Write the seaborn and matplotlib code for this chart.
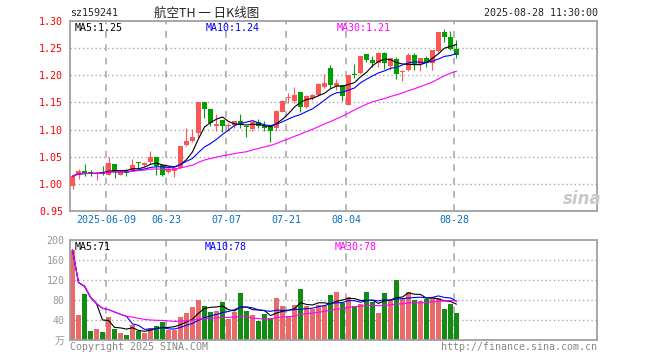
import numpy as np
import pandas as pd
import matplotlib
matplotlib.use("Agg")
import matplotlib.pyplot as plt
import seaborn as sns

# daily K-line data, 2025-05-29 .. 2025-08-28 (65 trading days)
opens = [0.996, 1.016, 1.023, 1.021, 1.019, 1.022, 1.017, 1.037, 1.017, 1.023,
         1.026, 1.039, 1.034, 1.040, 1.049, 1.034, 1.022, 1.023, 1.030, 1.072,
         1.079, 1.093, 1.150, 1.138, 1.107, 1.117, 1.106, 1.108, 1.115, 1.107,
         1.101, 1.114, 1.107, 1.106, 1.102, 1.133, 1.158, 1.153, 1.169, 1.141,
         1.158, 1.164, 1.178, 1.214, 1.181, 1.182, 1.146, 1.203, 1.204, 1.239,
         1.228, 1.222, 1.241, 1.217, 1.230, 1.206, 1.210, 1.238, 1.221, 1.231,
         1.222, 1.244, 1.280, 1.270, 1.248]
highs = [1.019, 1.027, 1.037, 1.025, 1.021, 1.032, 1.049, 1.037, 1.025, 1.027,
         1.045, 1.041, 1.041, 1.061, 1.049, 1.034, 1.032, 1.032, 1.070, 1.103,
         1.101, 1.150, 1.150, 1.138, 1.129, 1.117, 1.112, 1.115, 1.129, 1.107,
         1.116, 1.120, 1.115, 1.106, 1.136, 1.155, 1.167, 1.178, 1.169, 1.164,
         1.166, 1.185, 1.202, 1.219, 1.194, 1.182, 1.201, 1.220, 1.236, 1.240,
         1.235, 1.242, 1.243, 1.232, 1.234, 1.209, 1.241, 1.241, 1.232, 1.236,
         1.247, 1.280, 1.285, 1.282, 1.265]
lows = [0.991, 1.009, 1.015, 1.015, 1.008, 1.017, 1.016, 1.010, 1.016, 1.015,
        1.023, 1.029, 1.032, 1.036, 1.017, 1.014, 1.020, 1.013, 1.030, 1.070,
        1.077, 1.087, 1.121, 1.106, 1.097, 1.095, 1.097, 1.103, 1.103, 1.087,
        1.097, 1.102, 1.097, 1.078, 1.098, 1.133, 1.149, 1.149, 1.133, 1.140,
        1.154, 1.161, 1.177, 1.176, 1.172, 1.153, 1.145, 1.195, 1.202, 1.225,
        1.215, 1.216, 1.211, 1.210, 1.193, 1.190, 1.207, 1.210, 1.207, 1.216,
        1.210, 1.243, 1.262, 1.246, 1.231]
closes = [1.014, 1.023, 1.020, 1.020, 1.020, 1.019, 1.038, 1.023, 1.023, 1.020,
          1.035, 1.038, 1.038, 1.049, 1.032, 1.017, 1.028, 1.030, 1.070, 1.079,
          1.087, 1.150, 1.137, 1.112, 1.110, 1.107, 1.108, 1.115, 1.108, 1.104,
          1.114, 1.107, 1.102, 1.098, 1.135, 1.153, 1.159, 1.163, 1.141, 1.161,
          1.163, 1.184, 1.185, 1.183, 1.186, 1.161, 1.201, 1.201, 1.236, 1.228,
          1.222, 1.241, 1.222, 1.231, 1.202, 1.208, 1.238, 1.219, 1.231, 1.222,
          1.247, 1.280, 1.270, 1.248, 1.238]
volume = [180, 50, 93, 19, 22, 16, 46, 23, 14, 10,
          30, 19, 14, 25, 29, 37, 21, 21, 46, 55,
          66, 80, 69, 57, 58, 76, 43, 57, 95, 59,
          50, 39, 52, 44, 84, 68, 48, 70, 102, 68,
          62, 70, 70, 90, 96, 74, 86, 68, 72, 96,
          76, 54, 94, 80, 120, 82, 96, 80, 78, 82,
          86, 84, 62, 72, 54]

tick_idx = [6, 16, 26, 36, 46, 64]
tick_labels = ["2025-06-09", "06-23", "07-07", "07-21", "08-04", "08-28"]
price_ticks = [1.30, 1.25, 1.20, 1.15, 1.10, 1.05, 1.00, 0.95]
vol_ticks = [0, 40, 80, 120, 160, 200]
vol_tick_labels = ["万", "40", "80", "120", "160", "200"]
price_ma_text = ["MA5:1.25", "MA10:1.24", "MA30:1.21"]
vol_ma_text = ["MA5:71", "MA10:78", "MA30:78"]

df = pd.DataFrame({"open": opens, "high": highs, "low": lows,
                   "close": closes, "vol": volume})
df["i"] = np.arange(len(df))
df["dir"] = np.where(df["close"] >= df["open"], "up", "down")
for n in (5, 10, 30):
    df[f"ma{n}"] = df["close"].rolling(n, min_periods=1).mean()
    df[f"vma{n}"] = df["vol"].rolling(n, min_periods=1).mean()

UP, DOWN = "#ff5555", "#00a000"
pal = {"up": UP, "down": DOWN}
ma_colors = ["black", "#0000ff", "#ff00ff"]
GRID = "#aaaaaa"
BORDER = "#a0a0a0"

sns.set_style("white")
plt.rcParams["font.family"] = ["DejaVu Sans Mono", "Noto Sans CJK SC"]
FS = 7.2

fig = plt.figure(figsize=(6.6, 3.6), dpi=100)
ax1 = fig.add_axes([70 / 660, 1 - 211 / 360, 527 / 660, 190 / 360])
ax2 = fig.add_axes([70 / 660, 1 - 340 / 360, 527 / 660, 100 / 360])

xmin, xmax = -0.417, 87.42
edge = 0.417

# grid lines
for ax, lines in ((ax1, price_ticks[1:-1]), (ax2, vol_ticks[1:-1])):
    for v in lines:
        ax.axhline(v, color=GRID, lw=1, ls=(0, (1, 2)), zorder=0)
    for t in tick_idx:
        ax.axvline(t - edge, color=GRID, lw=1.2, ls=(0, (4, 4)), zorder=0)

# candles
cols = df["dir"].map(pal)
ax1.vlines(df["i"], df["low"], df["high"], colors=cols, lw=0.8, zorder=2)
body = (df["close"] - df["open"]).abs().clip(lower=0.0018)
bottom = df[["open", "close"]].min(axis=1)
ax1.bar(df["i"], body, bottom=bottom, width=0.83, color=cols, lw=0, zorder=3)

for n, c in zip((5, 10, 30), ma_colors):
    sns.lineplot(x=df["i"], y=df[f"ma{n}"], color=c, lw=0.8, ax=ax1, zorder=4)
    sns.lineplot(x=df["i"], y=df[f"vma{n}"], color=c, lw=0.8, ax=ax2, zorder=4)

# volume bars
sns.barplot(data=df, x="i", y="vol", hue="dir", palette=pal, native_scale=True,
            width=0.83, linewidth=0, dodge=False, legend=False, ax=ax2, zorder=2)

for ax in (ax1, ax2):
    ax.set_xlim(xmin, xmax)
    ax.set_xlabel("")
    ax.set_ylabel("")
    for s in ax.spines.values():
        s.set_color(BORDER)
        s.set_linewidth(1.3)

ax1.set_ylim(0.95, 1.30)
ax1.set_yticks(price_ticks, [f"{v:.2f}" for v in price_ticks])
ax1.tick_params(axis="y", colors="red", labelsize=FS, length=0, pad=5)
ax1.set_xticks([t - edge for t in tick_idx], tick_labels)
ax1.tick_params(axis="x", colors="#0a70c8", labelsize=FS, length=0, pad=3)

ax2.set_ylim(0, 200)
ax2.set_yticks(vol_ticks, vol_tick_labels)
ax2.tick_params(axis="y", colors="#999999", labelsize=FS, length=0, pad=4)
ax2.set_xticks([])

# MA labels
for txt, c, xp in zip(price_ma_text, ma_colors, (75, 206, 337)):
    fig.text(xp / 660, 1 - 28 / 360, txt, color=c, fontsize=FS, va="center")
for txt, c, xp in zip(vol_ma_text, ma_colors, (75, 205, 335)):
    fig.text(xp / 660, 1 - 247 / 360, txt, color=c, fontsize=FS, va="center")

# header / footer
fig.text(70 / 660, 1 - 13 / 360, "sz159241", fontsize=FS, va="center")
fig.text(207 / 660, 1 - 13 / 360, "航空TH 一 日K线图", fontsize=9, va="center",
         ha="center", family=["Noto Sans CJK SC", "DejaVu Sans"])
fig.text(598 / 660, 1 - 13 / 360, "2025-08-28 11:30:00", fontsize=FS,
         va="center", ha="right")
fig.text(70 / 660, 1 - 347 / 360, "Copyright 2025 SINA.COM", fontsize=FS,
         va="center", color="#888888")
fig.text(597 / 660, 1 - 347 / 360, "http://finance.sina.com.cn", fontsize=FS,
         va="center", ha="right", color="#888888")
fig.text(582 / 660, 1 - 199 / 360, "sina", fontsize=12, fontstyle="italic",
         fontweight="bold", color="#c8c8c8", ha="center", va="center",
         family="DejaVu Sans")

fig.savefig("out.png", dpi=100)
